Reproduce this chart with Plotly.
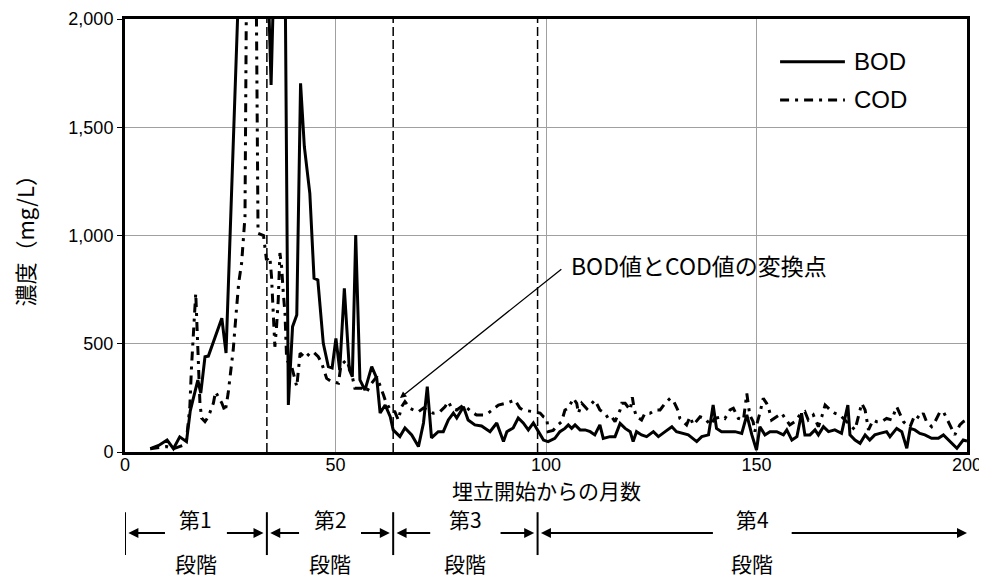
import plotly.graph_objects as go

# ---------------- data ----------------
bod_month = [6, 8, 10, 11.5, 13, 14.6, 15.5, 17.3, 18, 19, 19.8, 23, 24, 27, 31, 33.8, 34.7, 35.5, 38,
             38.8, 39.8, 40.8, 41.7, 42.6, 43.9, 44.9, 45.8, 47.1, 48.3, 49.2, 50.1, 51, 52.1, 53.3, 54,
             54.8, 55.8, 57, 58.6, 59.8, 60.6, 61.8, 63, 63.7, 65.3, 66.5, 68.1, 69.7, 70.9, 71.8, 72.8,
             74.4, 75.6, 76.8, 78, 78.8, 80.4, 81.5, 83.1, 84.7, 86.7, 88.3, 89.9, 90.7, 92.2, 93.4,
             94.6, 95.8, 97, 98.2, 99.4, 100.5, 102.1, 103.3, 104.5, 105.3, 106.1, 106.9, 108.1, 109.3,
             110.5, 111.6, 112.8, 113.6, 115.2, 116.4, 117.6, 118.8, 120, 120.7, 121.5, 122.7, 123.9,
             125.5, 126.7, 128.3, 129.9, 131, 132.6, 133.8, 135.8, 137, 138.6, 139.7, 140.5, 141.7,
             143.3, 144.9, 146.5, 147.7, 148.9, 150, 150.8, 152, 153.2, 154.8, 156.4, 157.2, 158.4,
             159.6, 160.7, 161.5, 162.7, 163.9, 164.7, 165.9, 167.1, 168.6, 170.2, 171.7, 172.2,
             173.4, 174.6, 175.8, 176.9, 178.1, 179.3, 180.9, 181.7, 183.3, 184.5, 185.7, 186.5,
             187.6, 188.8, 190, 191.6, 193.2, 194.4, 196, 197.6, 199.1, 200]
bod_value = [15, 30, 55, 15, 70, 48, 190, 332, 272, 440, 443, 618, 457, 2150, 2500, 2300, 1695, 2300, 2300,
             217, 579, 633, 1703, 1410, 1195, 803, 795, 502, 394, 388, 525, 379, 756, 379, 348,
             1002, 333, 286, 394, 340, 180, 217, 163, 102, 71, 111, 79, 25, 134, 302, 65,
             94, 94, 148, 180, 157, 209, 148, 125, 120, 94, 134, 48, 94, 111, 157,
             134, 102, 134, 94, 55, 48, 63, 94, 109, 125, 109, 125, 102, 102,
             94, 79, 125, 63, 71, 71, 132, 109, 94, 48, 94, 79, 71,
             94, 71, 94, 117, 94, 86, 79, 48, 71, 79, 217, 109, 94,
             94, 94, 86, 171, 79, 9, 117, 79, 94, 94, 79, 102, 55,
             71, 179, 79, 79, 102, 79, 117, 94, 102, 86, 217, 79,
             55, 40, 79, 55, 79, 86, 94, 71, 109, 94, 17, 109,
             102, 86, 79, 63, 63, 79, 48, 17, 55, 50]

cod_month = [6, 9.9, 11.5, 13.9, 14.6, 15.4, 15.8, 16.8, 17.8, 18.2, 19, 19.8, 21, 21.5, 23, 23.8, 24.5,
             25, 25.7, 26.5, 27, 27.7, 28.1, 28.5, 29, 31, 31.6, 32.9, 33.6, 34.4, 34.8, 35.2, 35.6,
             36, 36.4, 36.8, 37.2, 37.6, 38, 38.4, 39.6, 40.8, 41.6, 42.8, 43.9, 44.7, 45.9, 46.7,
             47.9, 49.1, 50.7, 51.3, 52.6, 53.8, 54.6, 56.2, 57.4, 58.6, 59.8, 61.4, 61.8, 63, 64.1,
             64.9, 65.7, 66.5, 67.7, 68.5, 69.7, 70.9, 72, 73.2, 74.8, 76, 76.8, 77.6, 78.8, 80.4,
             82.3, 83.5, 85.1, 86.3, 88.7, 90.7, 92.6, 93.8, 94.6, 96.6, 98.6, 99.4, 100.2, 100.5,
             101.7, 102.8, 103.7, 104.5, 105.3, 106.5, 107.3, 107.7, 108.5, 109.7, 110.9, 111.6,
             112.8, 114, 114.8, 115.6, 116.4, 117.6, 118, 118.8, 120, 120.5, 121, 121.5, 122.7,
             123.5, 124.7, 125.9, 127.1, 128.3, 129.5, 130.2, 131.4, 131.8, 132.6, 133.4, 134.2,
             135, 136.6, 137.8, 139, 140.1, 141.7, 142.5, 143.7, 144.5, 145.7, 146.9, 147.7, 148.4,
             149.2, 149.6, 150.8, 151.6, 152.4, 152.8, 153.6, 154.8, 156, 156.8, 157.9, 159.1,
             160.3, 161.5, 162.3, 163.5, 164.7, 165.5, 166.3, 167.5, 168.6, 169.8, 172.2, 173.4,
             175, 175.8, 176.2, 176.6, 177.7, 178.5, 179.7, 180.9, 182.1, 183.3, 184.9, 185.7,
             186.5, 187.6, 188.8, 189.6, 190.4, 191.6, 192.4, 193.6, 194.4, 195.6, 196.4, 197.1,
             198.3, 199.1, 200]
cod_value = [15, 25, 15, 32, 55, 209, 394, 733, 226, 157, 140, 163, 226, 278, 226, 186, 271,
             356, 471, 665, 780, 873, 979, 1087, 2600, 2600, 1010, 1000, 887, 902, 810, 656, 486,
             579, 702, 919, 856, 734, 642, 425, 394, 302, 457, 434, 457, 463, 440, 411,
             340, 325, 318, 402, 425, 365, 295, 295, 278, 318, 348, 263, 240, 194, 186,
             148, 209, 233, 202, 194, 186, 203, 190, 179, 186, 209, 233, 202, 194, 217,
             186, 171, 171, 180, 217, 226, 240, 203, 194, 186, 180, 163, 155, 94,
             100, 125, 140, 194, 202, 248, 225, 179, 225, 200, 225, 240,
             194, 179, 155, 163, 140, 194, 225, 225, 194, 253, 194, 163, 148,
             179, 179, 194, 194, 225, 248, 240, 190, 155, 140, 125, 163,
             125, 163, 155, 125, 155, 163, 155, 194, 202, 155, 148, 270, 171,
             140, 94, 179, 248, 225, 209, 148, 163, 179, 155, 125, 140,
             171, 186, 148, 171, 117, 163, 217, 194, 179, 171, 125, 102,
             225, 194, 148, 102, 148, 140, 140, 155, 148, 209, 140, 125,
             117, 171, 155, 179, 140, 117, 140, 186, 186, 140, 109, 79,
             125, 140, 150]

stage_bounds = [0, 33.7, 63.7, 98, 200]
stage_top = ["第1", "第2", "第3", "第4"]
stage_bottom = ["段階", "段階", "段階", "段階"]

x_ticks = [0, 50, 100, 150, 200]
y_ticks = [0, 500, 1000, 1500, 2000]

series_names = ["BOD", "COD"]
COD_DASH = "9px,6px,3px,6px"

FONT = "Liberation Sans, Arial, Noto Sans CJK JP, sans-serif"
JFONT = "Noto Sans CJK JP, Liberation Sans, sans-serif"

fig = go.Figure()
fig.add_trace(go.Scatter(x=bod_month, y=bod_value, mode="lines", name=series_names[0],
                         showlegend=False, line=dict(color="black", width=3)))
fig.add_trace(go.Scatter(x=cod_month, y=cod_value, mode="lines", name=series_names[1],
                         showlegend=False, line=dict(color="black", width=3, dash=COD_DASH)))

# legend (drawn manually so line samples are long, like the reference)
leg_rows = [(0.901, "solid"), (0.813, COD_DASH)]
for (ly, dsh), nm in zip(leg_rows, series_names):
    fig.add_shape(type="line", xref="paper", yref="paper", x0=0.778, x1=0.855, y0=ly, y1=ly,
                  line=dict(color="black", width=3, dash=dsh))
    fig.add_annotation(x=0.864, y=ly, xref="paper", yref="paper", text=nm, showarrow=False,
                       xanchor="left", yanchor="middle",
                       font=dict(family=FONT, size=24, color="black"))

# stage divider dashed lines
for xb in stage_bounds[1:4]:
    fig.add_shape(type="line", xref="x", yref="paper", x0=xb, x1=xb, y0=0, y1=1,
                  line=dict(color="black", width=1.5, dash="9px,4px"))

# stage bars and arrows below the axis
bar_y0, bar_y1 = -0.139, -0.238
arrow_y = -0.187
for xb in stage_bounds[0:4]:
    fig.add_shape(type="line", xref="x", yref="paper", x0=xb, x1=xb, y0=bar_y0, y1=bar_y1,
                  line=dict(color="black", width=2))

gap = [7.0, 7.0, 8.0, 9.0]
for i in range(4):
    a, b = stage_bounds[i], stage_bounds[i + 1]
    mid = (a + b) / 2
    if i == 3:
        mid = 149
    g = gap[i]
    fig.add_annotation(x=a + 0.8, y=arrow_y, ax=mid - g, ay=0, xref="x", yref="paper",
                       axref="x", ayref="pixel", text="", showarrow=True,
                       arrowhead=2, arrowsize=1, arrowwidth=2, arrowcolor="black")
    fig.add_annotation(x=b - (0.8 if i < 3 else 0), y=arrow_y, ax=mid + g, ay=0, xref="x",
                       yref="paper", axref="x", ayref="pixel", text="", showarrow=True,
                       arrowhead=2, arrowsize=1, arrowwidth=2, arrowcolor="black")
    fig.add_annotation(x=mid, y=-0.155, xref="x", yref="paper", text=stage_top[i],
                       showarrow=False, font=dict(family=JFONT, size=21, color="black"),
                       xanchor="center", yanchor="middle")
    fig.add_annotation(x=mid, y=-0.256, xref="x", yref="paper", text=stage_bottom[i],
                       showarrow=False, font=dict(family=JFONT, size=21, color="black"),
                       xanchor="center", yanchor="middle")

# transition point annotation
fig.add_annotation(x=65.3, y=249, ax=104, ay=850, xref="x", yref="y", axref="x", ayref="y",
                   text="", showarrow=True, arrowhead=2, arrowsize=1, arrowwidth=1.3,
                   arrowcolor="black")
fig.add_annotation(x=105.5, y=866, xref="x", yref="y", text="BOD値とCOD値の変換点",
                   showarrow=False, xanchor="left", yanchor="middle",
                   font=dict(family=JFONT, size=23, color="black"))

# axis titles
fig.add_annotation(x=-0.121, y=0.5, xref="paper", yref="paper", text="濃度（mg/L）",
                   textangle=-90, showarrow=False, xanchor="center", yanchor="middle",
                   font=dict(family=JFONT, size=22, color="black"))
fig.add_annotation(x=0.5, y=-0.0885, xref="paper", yref="paper", text="埋立開始からの月数",
                   showarrow=False, xanchor="center", yanchor="middle",
                   font=dict(family=JFONT, size=21, color="black"))

# The page adds an 8px body margin, so the figure is 8px smaller than the window.
fig.update_layout(
    width=979, height=572,
    margin=dict(l=117, r=20, t=11, b=128),
    paper_bgcolor="white", plot_bgcolor="white",
    font=dict(family=FONT, size=18, color="black"),
    showlegend=False,
    xaxis=dict(range=[0, 200], tickvals=x_ticks, showgrid=True, gridcolor="#a0a0a0",
               gridwidth=1, showline=True, mirror=True, linecolor="black", linewidth=3,
               ticks="", zeroline=False, automargin=False, ticklabelstandoff=-6,
               ticklabeloverflow="allow"),
    yaxis=dict(range=[0, 2000], tickvals=y_ticks, tickformat=",d", showgrid=True,
               gridcolor="#a0a0a0", gridwidth=1, showline=True, mirror=True,
               linecolor="black", linewidth=3, ticks="outside", ticklen=5,
               tickcolor="black", zeroline=False, automargin=False),
)

fig.write_html("out.html")
